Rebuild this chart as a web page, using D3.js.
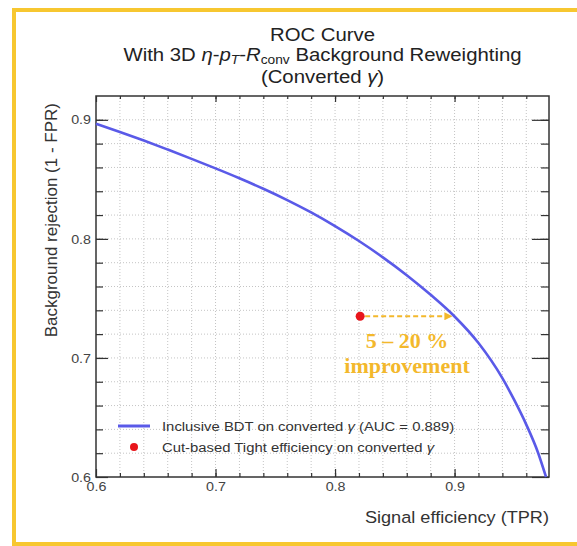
<!DOCTYPE html>
<html>
<head>
<meta charset="utf-8">
<script src="https://cdn.jsdelivr.net/npm/d3@7"></script>
<style>
  body { margin: 0; background: #fff; }
  svg { display: block; font-family: "Liberation Sans", Arial, Helvetica, sans-serif; }
</style>
</head>
<body>
<script>
// ROC curve values
const tpr = [0.60, 0.62, 0.64, 0.66, 0.68, 0.70, 0.72, 0.74, 0.76, 0.78, 0.80,
             0.82, 0.84, 0.86, 0.88, 0.90, 0.92, 0.94, 0.95, 0.96, 0.97, 0.9765]
const rejection = [0.8967, 0.8898, 0.8826, 0.8750, 0.8672, 0.8592, 0.8509, 0.8421, 0.8326, 0.8222, 0.8107,
                   0.7982, 0.7845, 0.7695, 0.7530, 0.7348, 0.7125, 0.683, 0.6645, 0.644, 0.620, 0.6]

// cut-based working point and where the arrow lands
const cutPoint = {tpr: 0.821, rej: 0.735}
const arrowEnd = 0.8975

const xTicks = [0.6, 0.7, 0.8, 0.9]
const yTicks = [0.6, 0.7, 0.8, 0.9]
const legendLabels = ["Inclusive BDT on converted ", "Cut-based Tight efficiency on converted "]

const width = 577, height = 546
const margin = {top: 96, right: 28, bottom: 69, left: 96}
const sx = 1.1   // the reference is a little stretched sideways

const blue = "#5a5ae8", gold = "#f3b82c", red = "#e8151b"

const svg = d3.select("body").append("svg")
  .attr("width", width)
  .attr("height", height)

/* yellow slide frame */
svg.append("rect")
  .attr("x", 14).attr("y", 10)
  .attr("width", 620).attr("height", 534)
  .attr("fill", "none")
  .attr("stroke", "#f7c730")
  .attr("stroke-width", 4)

const x = d3.scaleLinear()
  .domain([0.6, 0.979])
  .range([margin.left, width - margin.right])

const y = d3.scaleLinear()
  .domain([0.6, 0.92])
  .range([height - margin.bottom, margin.top])

const minorX = d3.range(0.62, 0.97, 0.02)
const minorY = d3.range(0.62, 0.915, 0.02)

const plotBottom = y.range()[0], plotTop = y.range()[1]
const plotLeft = x.range()[0], plotRight = x.range()[1]

/* dotted grid */
svg.append("g").selectAll("line")
  .data(minorX)
  .enter().append("line")
  .attr("x1", d => x(d)).attr("x2", d => x(d))
  .attr("y1", plotBottom).attr("y2", plotTop)
  .attr("stroke", "#c4c4c4")
  .attr("stroke-dasharray", "1,2")

svg.append("g").selectAll("line")
  .data(minorY)
  .enter().append("line")
  .attr("y1", d => y(d)).attr("y2", d => y(d))
  .attr("x1", plotLeft).attr("x2", plotRight)
  .attr("stroke", "#c4c4c4")
  .attr("stroke-dasharray", "1,2")

/* axes, ticks pointing inwards on all four sides */
const axisColor = "#333"

const addAxis = (axis, transform) => {
  const g = svg.append("g")
    .attr("transform", transform)
    .call(axis)
  g.select(".domain").remove()
  g.selectAll("line").attr("stroke", axisColor).attr("stroke-width", 1.2)
  g.selectAll("text").attr("fill", "#444").attr("font-size", 13)
    .attr("font-family", "Liberation Sans, Arial, sans-serif")
  return g
}

addAxis(d3.axisBottom(x).tickValues(minorX).tickSize(-4).tickFormat(""), `translate(0,${plotBottom})`)
const xg = addAxis(d3.axisBottom(x).tickValues(xTicks).tickSize(-8).tickPadding(5).tickFormat(d3.format(".1f")), `translate(0,${plotBottom})`)
xg.selectAll("text").attr("transform", `translate(0,5) scale(${sx},1)`).attr("y", 0)

addAxis(d3.axisTop(x).tickValues(minorX).tickSize(-3).tickFormat(""), `translate(0,${plotTop})`)
addAxis(d3.axisTop(x).tickValues(xTicks).tickSize(-6).tickFormat(""), `translate(0,${plotTop})`)

addAxis(d3.axisLeft(y).tickValues(minorY).tickSize(-7).tickFormat(""), `translate(${plotLeft},0)`)
const yg = addAxis(d3.axisLeft(y).tickValues(yTicks).tickSize(-12).tickPadding(5).tickFormat(d3.format(".1f")), `translate(${plotLeft},0)`)
yg.selectAll("text").attr("transform", `translate(-5,0) scale(${sx},1)`).attr("x", 0)

addAxis(d3.axisRight(y).tickValues(minorY).tickSize(-8).tickFormat(""), `translate(${plotRight},0)`)
addAxis(d3.axisRight(y).tickValues(yTicks).tickSize(-17).tickFormat(""), `translate(${plotRight},0)`)

/* plot frame */
svg.append("rect")
  .attr("x", plotLeft).attr("y", plotTop)
  .attr("width", plotRight - plotLeft).attr("height", plotBottom - plotTop)
  .attr("fill", "none")
  .attr("stroke", axisColor)
  .attr("stroke-width", 1.5)

/* ROC curve */
const rocData = tpr.map((t, i) => ({tpr: t, rej: rejection[i]}))
const line = d3.line()
  .x(d => x(d.tpr))
  .y(d => y(d.rej))
  .curve(d3.curveMonotoneX)

svg.append("path")
  .datum(rocData)
  .attr("d", line)
  .attr("fill", "none")
  .attr("stroke", blue)
  .attr("stroke-width", 2.6)

/* arrow from the cut-based point to the curve */
svg.append("defs").append("marker")
  .attr("id", "head")
  .attr("viewBox", "0 0 10 10")
  .attr("refX", 9).attr("refY", 5)
  .attr("markerWidth", 4).attr("markerHeight", 4)
  .attr("orient", "auto")
  .append("path")
  .attr("d", "M0,0L10,5L0,10Z")
  .attr("fill", gold)

svg.append("line")
  .attr("x1", x(cutPoint.tpr) + 5).attr("x2", x(arrowEnd))
  .attr("y1", y(cutPoint.rej)).attr("y2", y(cutPoint.rej))
  .attr("stroke", gold)
  .attr("stroke-width", 2)
  .attr("stroke-dasharray", "5,3")
  .attr("marker-end", "url(#head)")

svg.append("circle")
  .attr("cx", x(cutPoint.tpr)).attr("cy", y(cutPoint.rej))
  .attr("r", 4.5)
  .attr("fill", red)

/* helper for sideways-stretched text */
const label = (px, py, anchor, size) => svg.append("text")
  .attr("transform", `translate(${px},${py}) scale(${sx},1)`)
  .attr("text-anchor", anchor)
  .attr("font-size", size)

const annX = 407
label(annX, 348, "middle", 20)
  .attr("font-family", "Liberation Serif, Times New Roman, serif")
  .attr("font-weight", "bold").attr("fill", gold)
  .text("5 – 20 %")
label(annX, 373, "middle", 20)
  .attr("font-family", "Liberation Serif, Times New Roman, serif")
  .attr("font-weight", "bold").attr("fill", gold)
  .text("improvement")

/* title */
const cx = (plotLeft + plotRight) / 2
const titleColor = "#222"
label(cx, 41, "middle", 18.5).attr("fill", titleColor).text("ROC Curve")

const t2 = label(cx, 61, "middle", 18.5).attr("fill", titleColor)
t2.append("tspan").text("With 3D ")
t2.append("tspan").attr("font-style", "italic").text("η")
t2.append("tspan").text("-")
t2.append("tspan").attr("font-style", "italic").text("p")
t2.append("tspan").attr("font-style", "italic").attr("font-size", 12.5).attr("dy", 3).text("T")
t2.append("tspan").attr("dy", -3).text("-")
t2.append("tspan").attr("font-style", "italic").text("R")
t2.append("tspan").attr("font-size", 12.5).attr("dy", 3).text("conv")
t2.append("tspan").attr("dy", -3).text(" Background Reweighting")

const t3 = label(cx, 83, "middle", 18.5).attr("fill", titleColor)
t3.append("tspan").text("(Converted ")
t3.append("tspan").attr("font-style", "italic").text("γ")
t3.append("tspan").text(")")

/* axis titles */
label(plotRight, 523, "end", 16.5).attr("fill", "#333").text("Signal efficiency (TPR)")

svg.append("text")
  .attr("transform", `translate(57,${plotTop + 7}) rotate(-90)`)
  .attr("text-anchor", "end")
  .attr("font-size", 17)
  .attr("fill", "#333")
  .text("Background rejection (1 - FPR)")

/* legend */
const legY = [426, 447]
svg.append("line")
  .attr("x1", 118).attr("x2", 150)
  .attr("y1", legY[0]).attr("y2", legY[0])
  .attr("stroke", blue).attr("stroke-width", 3)
svg.append("circle")
  .attr("cx", 134).attr("cy", legY[1]).attr("r", 4)
  .attr("fill", red)

legendLabels.forEach((txt, i) => {
  const t = label(162, legY[i] + 4.5, "start", 13.5).attr("fill", "#333")
  t.append("tspan").text(txt)
  t.append("tspan").attr("font-style", "italic").text("γ")
  if (i === 0) t.append("tspan").text(" (AUC = 0.889)")
})
</script>
</body>
</html>
